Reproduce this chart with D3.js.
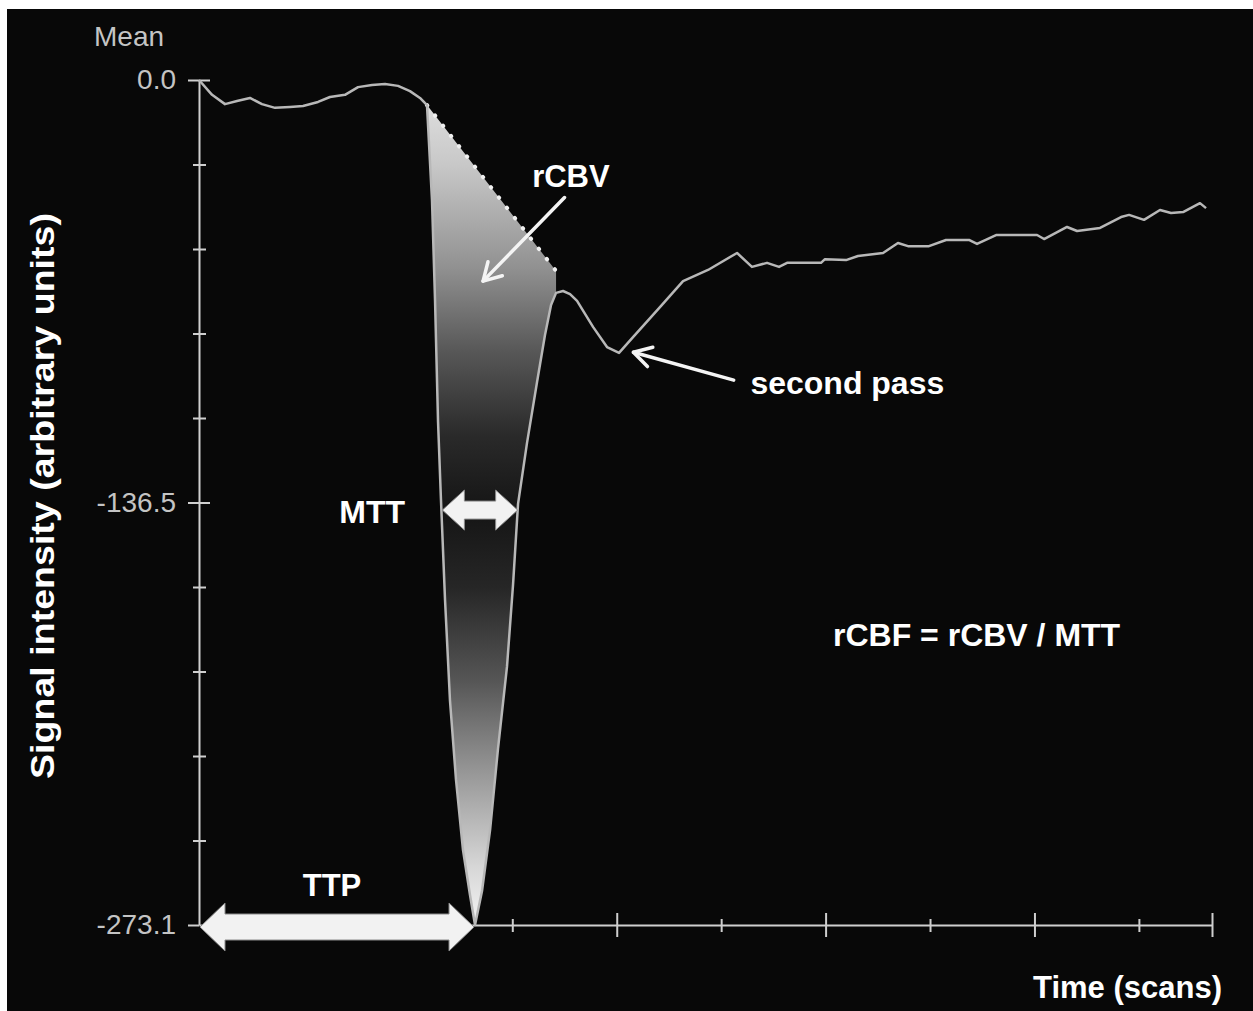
<!DOCTYPE html>
<html>
<head>
<meta charset="utf-8">
<script src="https://cdn.jsdelivr.net/npm/d3@7"></script>
<style>
  html, body { margin: 0; padding: 0; background: #ffffff; }
  svg { display: block; }
  text { font-family: "Liberation Sans", Arial, Helvetica, sans-serif; }
</style>
</head>
<body>
<svg id="chart" width="1253" height="1011"></svg>
<script>
// Mean signal-intensity time curve of a dynamic susceptibility contrast bolus.
const scans = [0, 1.25, 2.49, 3.64, 4.88, 6.03, 7.28, 8.71, 9.96, 11.4, 12.54, 13.98, 15.23, 16.57, 17.81, 19.06, 20.2, 21.16, 21.83,
  22.31, 22.6, 22.89, 23.17, 23.56, 24.03, 24.61, 25.28, 25.95, 26.43,
  27.1, 27.87, 28.63, 29.49, 30.07, 30.55, 31.41, 32.37, 33.13, 33.71, 34.19, 34.86, 35.53, 36.2, 37.73, 39.07, 40.22,
  41.56, 44.14, 46.35, 48.74, 51.52, 52.95, 54.39, 55.54, 56.31, 59.56, 59.94, 61.96, 63.1, 65.5, 66.93, 67.89, 69.9,
  71.53, 73.73, 74.5, 76.32, 80.25, 80.92, 83.12, 84.08, 86.28, 88.29, 89.06, 90.49, 92.02, 93.08, 94.23, 95.85, 96.43];
const signal = [0, -4.8, -7.8, -6.8, -5.8, -7.8, -9.0, -8.7, -8.4, -7.1, -5.5, -4.8, -2.3, -1.6, -1.3, -1.9, -3.6, -5.8, -8.1,
  -38.8, -71.1, -110.5, -135.7, -168.1, -200.4, -226.2, -248.9, -263.4, -273.1,
  -262.1, -242.4, -216.2, -189.7, -163.2, -137.0, -117.3, -97.6, -82.4, -72.7, -68.8, -68.2, -69.2, -71.4, -79.8, -86.3, -88.2,
  -83.1, -73.4, -65.0, -61.4, -55.9, -60.4, -59.1, -60.4, -59.1, -59.1, -57.9, -58.2, -56.9, -55.9, -52.7, -53.7, -53.7,
  -51.7, -51.7, -53.0, -50.1, -50.1, -51.4, -47.5, -48.8, -47.8, -44.3, -43.6, -45.2, -42.0, -43.0, -42.7, -39.8, -41.4];

// Straight baseline closing the first-pass area (rCBV)
const baselineScans = [21.83, 34.19];
const baselineSignal = [-8.1, -61.7];

// Axes
const xDomain = [0, 97];
const yDomain = [-273.1, 0];
const xMinorTicks = [10, 20, 30, 50, 70, 90];
const xMajorTicks = [40, 60, 80, 97];
const yTicks = d3.range(11).map(i => yDomain[0] * i / 10);
const yTickLabels = ["0.0", "", "", "", "", "-136.5", "", "", "", "", "-273.1"];

// Level at which the transit width (MTT) is marked
const mttLevel = -139;
// Annotation anchors (scan, signal)
const rcbvLabelAt = [31.9, -31];
const rcbvArrowFrom = [35.0, -38];
const rcbvArrowTo = [27.2, -65];
const passLabelAt = [52.8, -98];
const passArrowFrom = [51.2, -97];
const passArrowTo = [41.6, -88];

const svg = d3.select("#chart");
const W = 1253, H = 1011;

svg.append("rect").attr("width", W).attr("height", H).attr("fill", "#ffffff");
svg.append("rect").attr("x", 7).attr("y", 9).attr("width", W - 7).attr("height", H - 9).attr("fill", "#080808");

const x = d3.scaleLinear().domain(xDomain).range([199, 1212]);
const y = d3.scaleLinear().domain(yDomain).range([925, 80]);

const data = scans.map((s, i) => [s, signal[i]]);

// Gradient for the first-pass area
const defs = svg.append("defs");
const grad = defs.append("linearGradient").attr("id", "passFill")
  .attr("gradientUnits", "userSpaceOnUse")
  .attr("x1", 0).attr("x2", 0).attr("y1", y(0)).attr("y2", y(yDomain[0]));
[[0.00, "#e6e6e6"], [0.10, "#c8c8c8"], [0.22, "#929292"], [0.32, "#585858"],
 [0.42, "#2a2a2a"], [0.51, "#151515"], [0.60, "#262626"], [0.71, "#555555"],
 [0.82, "#979797"], [0.93, "#d6d6d6"], [1.00, "#f4f4f4"]]
  .forEach(([o, c]) => grad.append("stop").attr("offset", o).attr("stop-color", c));

// Shaded first-pass area between the curve and the baseline
const areaPts = data.filter(d => d[0] >= baselineScans[0] && d[0] <= baselineScans[1]);
areaPts.push([baselineScans[1], baselineSignal[1]]);
areaPts.push([baselineScans[0], baselineSignal[0]]);
const lineGen = d3.line().x(d => x(d[0])).y(d => y(d[1]));
svg.append("path").attr("d", lineGen(areaPts) + "Z").attr("fill", "url(#passFill)");

// Dotted baseline
svg.append("path")
  .attr("d", lineGen(baselineScans.map((s, i) => [s, baselineSignal[i]])))
  .attr("fill", "none").attr("stroke", "#f0f0f0").attr("stroke-width", 4)
  .attr("stroke-linecap", "round").attr("stroke-dasharray", "0.5 12.5");

// Y axis
const yAxis = d3.axisLeft(y).tickValues(yTicks).tickFormat((d, i) => yTickLabels[i]).tickSize(0).tickPadding(23);
const gy = svg.append("g").attr("transform", "translate(199,0)").call(yAxis);
gy.select(".domain").attr("stroke", "#cfcfcf").attr("stroke-width", 2);
gy.selectAll(".tick line")
  .attr("x1", (d, i) => yTickLabels[i] ? -11 : -6)
  .attr("x2", (d, i) => i === 10 ? 0 : (yTickLabels[i] ? 11 : 7))
  .attr("stroke", "#cfcfcf").attr("stroke-width", 2);
gy.selectAll(".tick text").attr("fill", "#c4c4c4").attr("font-size", 28)
  .attr("font-family", "'Liberation Sans', Arial, sans-serif");

// X axis
const gx = svg.append("g").attr("transform", "translate(0,925)");
gx.call(d3.axisBottom(x).tickValues(xMinorTicks.concat(xMajorTicks)).tickFormat("").tickSize(0));
gx.select(".domain").attr("stroke", "#cfcfcf").attr("stroke-width", 2);
gx.selectAll(".tick line")
  .attr("y1", d => xMajorTicks.includes(d) ? -12 : -6)
  .attr("y2", d => xMajorTicks.includes(d) ? 12 : 7)
  .attr("stroke", "#cfcfcf").attr("stroke-width", 2);

// Signal curve
svg.append("path").datum(data).attr("d", lineGen)
  .attr("fill", "none").attr("stroke", "#b8b8b8").attr("stroke-width", 2.5)
  .attr("stroke-linejoin", "round");

// Helpers
function crossing(level, fromIdx, step) {
  for (let i = fromIdx; i + step >= 0 && i + step < data.length; i += step) {
    const a = data[i], b = data[i + step];
    if ((a[1] - level) * (b[1] - level) <= 0) {
      const t = (level - a[1]) / (b[1] - a[1]);
      return a[0] + t * (b[0] - a[0]);
    }
  }
  return data[fromIdx][0];
}
function doubleArrow(x1, x2, cy, shaft, head, headLen) {
  const s = shaft / 2, h = head / 2;
  return `M${x1},${cy} L${x1 + headLen},${cy - h} L${x1 + headLen},${cy - s} L${x2 - headLen},${cy - s}` +
    ` L${x2 - headLen},${cy - h} L${x2},${cy} L${x2 - headLen},${cy + h} L${x2 - headLen},${cy + s}` +
    ` L${x1 + headLen},${cy + s} L${x1 + headLen},${cy + h} Z`;
}
function lineArrow(from, to) {
  const x0 = x(from[0]), y0 = y(from[1]), x1 = x(to[0]), y1 = y(to[1]);
  const ang = Math.atan2(y1 - y0, x1 - x0), L = 20, spread = Math.PI / 6;
  const g = svg.append("g").attr("stroke", "#f4f4f4").attr("stroke-width", 3.5)
    .attr("fill", "none").attr("stroke-linecap", "round").attr("stroke-linejoin", "round");
  g.append("line").attr("x1", x0).attr("y1", y0).attr("x2", x1).attr("y2", y1);
  g.append("path").attr("d",
    `M${x1 - L * Math.cos(ang - spread)},${y1 - L * Math.sin(ang - spread)} L${x1},${y1} ` +
    `L${x1 - L * Math.cos(ang + spread)},${y1 - L * Math.sin(ang + spread)}`);
}

// Time to peak: from the first scan to the minimum
const minIdx = d3.minIndex(signal);
svg.append("path")
  .attr("d", doubleArrow(x(0) + 1, x(scans[minIdx]) - 1, y(yDomain[0]) + 2, 26, 48, 25))
  .attr("fill", "#f2f2f2").attr("stroke", "#8a8a8a").attr("stroke-width", 1);

// Mean transit time: width of the first pass at a fixed level
const mttL = crossing(mttLevel, minIdx, -1);
const mttR = crossing(mttLevel, minIdx, 1);
svg.append("path")
  .attr("d", doubleArrow(x(mttL) + 1, x(mttR), y(mttLevel), 18, 40, 22))
  .attr("fill", "#f2f2f2").attr("stroke", "#8a8a8a").attr("stroke-width", 1);

// Pointer arrows
lineArrow(rcbvArrowFrom, rcbvArrowTo);
lineArrow(passArrowFrom, passArrowTo);

// Texts
function label(txt, px, py, opts = {}) {
  return svg.append("text").attr("x", px).attr("y", py).attr("dy", "0.35em")
    .attr("fill", opts.fill || "#ffffff").attr("font-size", opts.size || 30)
    .attr("font-weight", opts.weight || "bold").attr("text-anchor", opts.anchor || "start")
    .text(txt);
}
label("Mean", 94, 36, { fill: "#c4c4c4", size: 28, weight: "normal" });
label("rCBV", x(rcbvLabelAt[0]), y(rcbvLabelAt[1]), { size: 31 });
label("second pass", x(passLabelAt[0]), y(passLabelAt[1]), { size: 32 });
label("MTT", 405, y(mttLevel) + 2, { size: 32, anchor: "end" });
label("TTP", 332, 885, { size: 31, anchor: "middle" });
label("rCBF = rCBV / MTT", 833, 635, { size: 32 });
label("Time (scans)", 1222, 987, { size: 31, anchor: "end" });

svg.append("text").attr("transform", "translate(42,496) rotate(-90)")
  .attr("text-anchor", "middle").attr("dy", "0.35em")
  .attr("fill", "#ffffff").attr("font-size", 33).attr("font-weight", "bold")
  .attr("textLength", 566).attr("lengthAdjust", "spacingAndGlyphs")
  .text("Signal intensity (arbitrary units)");
</script>
</body>
</html>
